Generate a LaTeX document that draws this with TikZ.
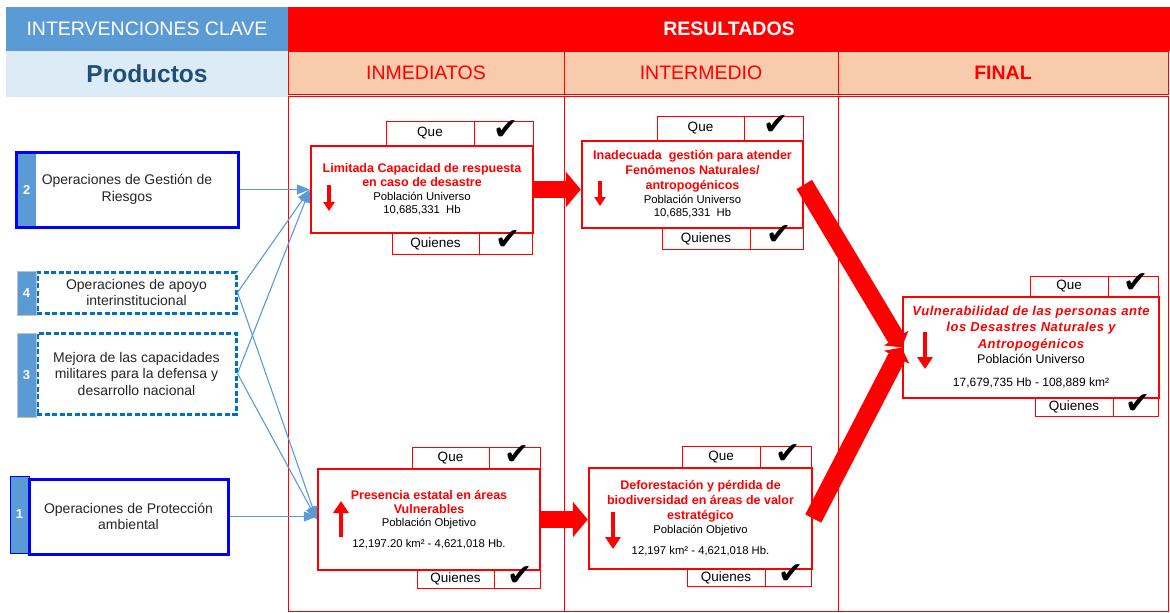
\documentclass[tikz,border=0pt]{standalone}
\usepackage{fontspec}
\setmainfont{Liberation Sans}
\newfontfamily\tickfont{DejaVu Sans}
\usetikzlibrary{arrows.meta}
\definecolor{tabblue}{HTML}{5B9BD5}
\definecolor{paleblue}{HTML}{DDEBF7}
\definecolor{prodnavy}{HTML}{1F4E79}
\definecolor{boxblue}{HTML}{0000FF}
\definecolor{dashblue}{HTML}{0070C0}
\definecolor{peach}{HTML}{F8CBAD}
\newcommand{\restitle}[1]{{\color{red}\bfseries\fontsize{12.5}{14}\selectfont #1}}
\newcommand{\resitalic}[1]{{\color{red}\bfseries\itshape\addfontfeature{LetterSpace=4}\fontsize{13}{16}\selectfont #1}}
\tikzset{
  hdr/.style={rectangle,inner sep=0pt,font=\fontsize{19.5}{22}\selectfont},
  colbox/.style={rectangle,draw=red,line width=1pt},
  prod/.style={rectangle,draw=boxblue,line width=3pt,fill=white,align=center,inner sep=0pt,text=black!85,font=\fontsize{14}{16.5}\selectfont},
  dashprod/.style={prod,draw=dashblue,dash pattern=on 5pt off 2.5pt},
  numtab/.style={rectangle,fill=tabblue,text=white,inner sep=0pt,minimum width=19pt,font=\bfseries\fontsize{13}{15}\selectfont},
  res/.style={rectangle,draw=red,line width=2.5pt,fill=white,align=center,inner sep=0pt,font=\fontsize{11.3}{13}\selectfont},
  cell/.style={rectangle,draw=red,line width=1pt,fill=white,inner sep=0pt,font=\fontsize{13.5}{15}\selectfont},
  tick/.style={inner sep=0pt,font=\tickfont\fontsize{30}{30}\selectfont},
  feed/.style={draw=tabblue,line width=1.1pt,-{Triangle[length=13pt,width=10pt]}},
  flow/.style={draw=red,line width=17pt,-{Triangle[length=15pt,width=35pt]}},
  slant/.style={draw=red,line width=18pt,-{Triangle[length=11pt,width=28pt]}},
  trend/.style={draw=red,line width=4pt,-{Triangle[length=12pt,width=15pt]}},
  trendsmall/.style={draw=red,line width=3.5pt,-{Triangle[length=9pt,width=11pt]}}
}
\begin{document}
\begin{tikzpicture}[x=1pt,y=-1pt]
\useasboundingbox (0,0) rectangle (1170,613);
\node[hdr,fill=tabblue,text=white,minimum width=282pt,minimum height=44pt] (clave) at (147,29) {INTERVENCIONES CLAVE};
\node[hdr,fill=paleblue,text=prodnavy,font=\bfseries\fontsize{24.5}{26}\selectfont,minimum width=282pt,minimum height=46pt] (productos) at (147,74) {Productos};
\node[hdr,fill=red,text=white,font=\bfseries\fontsize{19.5}{22}\selectfont,minimum width=882pt,minimum height=44pt] (resultados) at (729,29) {RESULTADOS};
\node[hdr,fill=peach,draw=red,text=red,minimum width=276pt,minimum height=43pt] (inmediatos) at (426,73) {INMEDIATOS};
\node[hdr,fill=peach,draw=red,text=red,minimum width=274pt,minimum height=43pt] (intermedio) at (701,73) {INTERMEDIO};
\node[hdr,fill=peach,draw=red,text=red,font=\bfseries\fontsize{19.5}{22}\selectfont,minimum width=330pt,minimum height=43pt] (final) at (1003,73) {FINAL};
\node[colbox,minimum width=276pt,minimum height=515pt] (colinm) at (426,353.5) {};
\node[colbox,minimum width=274pt,minimum height=515pt] (colint) at (701,353.5) {};
\node[colbox,minimum width=330pt,minimum height=515pt] (colfin) at (1003,353.5) {};

\node[prod,minimum width=222pt,minimum height=75pt] (p2) at (127,189.5) {Operaciones de Gestión de\\Riesgos};
\node[numtab,minimum width=18.5pt,minimum height=72pt] (t2) at (26.75,189.5) {2};
\node[dashprod,minimum width=199pt,minimum height=41pt] (p4) at (136.5,292.5) {Operaciones de apoyo\\interinstitucional};
\node[numtab,draw=gray!50,minimum height=44pt] (t4) at (26.5,293) {4};
\node[dashprod,minimum width=199pt,minimum height=81pt] (p3) at (136.5,373.5) {Mejora de las capacidades\\militares para la defensa y\\desarrollo nacional};
\node[numtab,draw=gray!50,minimum height=84pt] (t3) at (26.5,375) {3};
\node[numtab,draw=boxblue,line width=1pt,minimum height=77pt] (t1) at (19.5,514.5) {1};
\node[prod,minimum width=199pt,minimum height=75pt] (p1) at (128.5,516.5) {Operaciones de Protección\\ambiental};

\node[cell,minimum width=88pt,minimum height=25pt] (r1que) at (430,133.5) {Que};
\node[cell,minimum width=59pt,minimum height=25pt] (r1quechk) at (503.5,133.5) {};
\node[cell,minimum width=87pt,minimum height=21pt] (r1qui) at (435.5,243.5) {Quienes};
\node[cell,minimum width=53pt,minimum height=21pt] (r1quichk) at (505.5,243.5) {};
\node[cell,minimum width=87pt,minimum height=25pt] (r2que) at (700.5,128.5) {Que};
\node[cell,minimum width=59pt,minimum height=25pt] (r2quechk) at (773.5,128.5) {};
\node[cell,minimum width=88pt,minimum height=21pt] (r2qui) at (706,238.5) {Quienes};
\node[cell,minimum width=53pt,minimum height=21pt] (r2quichk) at (776.5,238.5) {};
\node[cell,minimum width=78pt,minimum height=21pt] (r3que) at (1069,286.5) {Que};
\node[cell,minimum width=50pt,minimum height=21pt] (r3quechk) at (1133,286.5) {};
\node[cell,minimum width=78pt,minimum height=18pt] (r3qui) at (1074,407) {Quienes};
\node[cell,minimum width=45pt,minimum height=18pt] (r3quichk) at (1135.5,407) {};
\node[cell,minimum width=77pt,minimum height=22pt] (r4que) at (450.5,458) {Que};
\node[cell,minimum width=51pt,minimum height=22pt] (r4quechk) at (514.5,458) {};
\node[cell,minimum width=77pt,minimum height=18pt] (r4qui) at (455.5,579) {Quienes};
\node[cell,minimum width=46pt,minimum height=18pt] (r4quichk) at (517,579) {};
\node[cell,minimum width=78pt,minimum height=22pt] (r5que) at (721,457) {Que};
\node[cell,minimum width=51pt,minimum height=22pt] (r5quechk) at (785.5,457) {};
\node[cell,minimum width=78pt,minimum height=17pt] (r5qui) at (726,577.5) {Quienes};
\node[cell,minimum width=46pt,minimum height=17pt] (r5quichk) at (788,577.5) {};

\node[res,minimum width=222pt,minimum height=87pt] (r1) at (422,189.5) {\restitle{Limitada Capacidad de respuesta}\\[1pt]\restitle{en caso de desastre}\\[1pt]Población Universo\\10,685,331~ Hb};
\node[res,minimum width=221pt,minimum height=87pt] (r2) at (692.5,184.5) {\restitle{Inadecuada~ gestión para atender}\\[2pt]\restitle{Fenómenos Naturales/}\\[2pt]\restitle{antropogénicos}\\[1pt]Población Universo\\10,685,331~ Hb};
\node[res,minimum width=256pt,minimum height=101pt,font=\fontsize{12}{14}\selectfont] (r3) at (1031,347.5) {\resitalic{Vulnerabilidad de las personas ante}\\[2pt]\resitalic{los Desastres Naturales y}\\[3pt]\resitalic{Antropogénicos}\\[1pt]{\fontsize{12.5}{14}\selectfont Población Universo}\\[9pt]17,679,735 Hb - 108,889 km²};
\node[res,minimum width=222pt,minimum height=101pt] (r4) at (429,519.5) {\restitle{Presencia estatal en áreas}\\[1pt]\restitle{Vulnerables}\\Población Objetivo\\[8pt]12,197.20 km² - 4,621,018 Hb.};
\node[res,minimum width=223pt,minimum height=101pt] (r5) at (700.5,518.5) {\restitle{Deforestación y pérdida de}\\[2pt]\restitle{biodiversidad en áreas de valor}\\[2pt]\restitle{estratégico}\\[1pt]Población Objetivo\\[8pt]12,197 km² - 4,621,018 Hb.};

\draw[feed] (p2.east) -- (r1.west);
\draw[feed] (p4.east) -- (r1.west);
\draw[feed] (p4.east) -- (r4.west);
\draw[feed] (p3.east) -- (r1.west);
\draw[feed] (p3.east) -- (r4.west);
\draw[feed] (p1.east) -- (p1.east -| r4.west);

\draw[flow] (r1.east) -- (r1.east -| r2.west);
\draw[flow] (r4.east) -- (r4.east -| r5.west);
\draw[slant] (r2.east) -- (r3.west);
\draw[slant] (r5.east) -- (r3.west);

\draw[trendsmall] (329,185) -- (329,211);
\draw[trendsmall] (600,181) -- (600,206);
\draw[trend] (925,332) -- (925,369);
\draw[trend] (341,537) -- (341,501);
\draw[trend] (613,512) -- (613,549);

\node[tick] (r1quetick) at ([xshift=3pt,yshift=3pt]r1quechk.center) {✔};
\node[tick] (r1quitick) at ([xshift=3pt,yshift=3pt]r1quichk.center) {✔};
\node[tick] (r2quetick) at ([xshift=3pt,yshift=3pt]r2quechk.center) {✔};
\node[tick] (r2quitick) at ([xshift=3pt,yshift=3pt]r2quichk.center) {✔};
\node[tick] (r3quetick) at ([xshift=3pt,yshift=3pt]r3quechk.center) {✔};
\node[tick] (r3quitick) at ([xshift=3pt,yshift=3pt]r3quichk.center) {✔};
\node[tick] (r4quetick) at ([xshift=3pt,yshift=3pt]r4quechk.center) {✔};
\node[tick] (r4quitick) at ([xshift=3pt,yshift=3pt]r4quichk.center) {✔};
\node[tick] (r5quetick) at ([xshift=3pt,yshift=3pt]r5quechk.center) {✔};
\node[tick] (r5quitick) at ([xshift=3pt,yshift=3pt]r5quichk.center) {✔};
\end{tikzpicture}
\end{document}
